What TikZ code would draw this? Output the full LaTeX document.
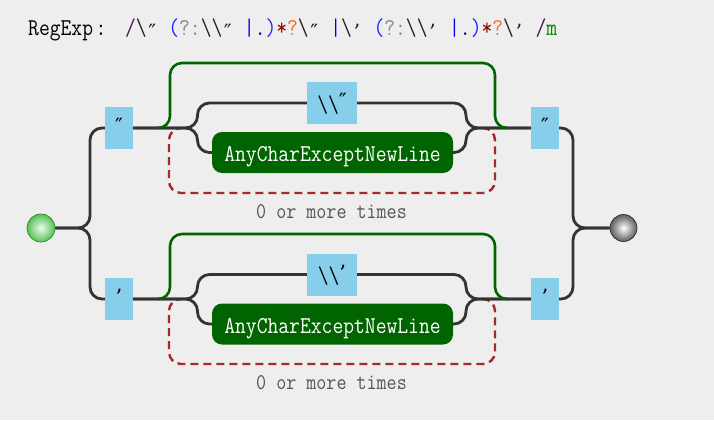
\documentclass[tikz,border=0pt]{standalone}
\usepackage{fontspec}
\newfontfamily\qfont{DejaVu Serif}
\definecolor{bg}{HTML}{EEEEEE}
\definecolor{linec}{HTML}{333333}
\definecolor{loopgreen}{HTML}{006400}
\definecolor{anygreen}{HTML}{006400}
\definecolor{repred}{HTML}{A52A2A}
\definecolor{sky}{HTML}{87CEEB}
\definecolor{notegray}{HTML}{555555}
\definecolor{gbin}{RGB}{235,252,235}
\definecolor{gbmid}{RGB}{70,185,70}
\definecolor{gbout}{RGB}{20,140,20}
\definecolor{gbrim}{RGB}{25,130,25}
\definecolor{ebin}{RGB}{255,255,255}
\definecolor{ebmid}{RGB}{110,110,110}
\definecolor{ebout}{RGB}{35,35,35}
\definecolor{ebrim}{RGB}{30,30,30}
\definecolor{cslash}{RGB}{80,20,90}
\definecolor{cesc}{HTML}{222222}
\definecolor{cgrp}{HTML}{1E1EFF}
\definecolor{cnc}{HTML}{8A8A8A}
\definecolor{cor}{HTML}{0000EE}
\definecolor{cdot}{HTML}{000080}
\definecolor{cstar}{HTML}{8B0000}
\definecolor{clazy}{HTML}{FF6A1A}
\definecolor{cflag}{HTML}{008000}
\pgfdeclareradialshading{greenball}{\pgfpoint{0bp}{0bp}}{color(0bp)=(gbin); color(28bp)=(gbmid); color(50bp)=(gbout)}
\pgfdeclareradialshading{grayball}{\pgfpoint{0bp}{0bp}}{color(0bp)=(ebin); color(22bp)=(ebmid); color(50bp)=(ebout)}
\newcommand{\tall}[1]{\scalebox{1}[1.15]{#1}}
\newcommand{\rxc}[2]{\makebox[10.8pt]{\textcolor{#1}{\tall{#2}}}}
\newcommand{\rxq}[2]{\makebox[21.6pt][l]{\hspace{1.5pt}\textcolor{#1}{\raisebox{-3.5pt}{\qfont #2}}}}
\newcommand{\bq}[1]{\raisebox{3.5pt}{\qfont #1}}
\begin{document}
\begin{tikzpicture}[x=1pt,y=-1pt,
  conn/.style={draw=linec, line width=2.8pt, rounded corners=12pt},
  loopg/.style={draw=loopgreen, line width=2.6pt, rounded corners=12pt},
  repeatloop/.style={draw=repred, line width=2.4pt, dash pattern=on 8pt off 5pt, rounded corners=12pt},
  lit/.style={fill=sky, inner sep=0pt, minimum height=42pt, text height=22pt, text depth=4pt, font=\ttfamily\fontsize{21}{25}\selectfont},
  chars/.style={fill=anygreen, rounded corners=10pt, inner sep=0pt, minimum width=241pt, minimum height=41pt, text=white, text height=22pt, text depth=4pt, font=\ttfamily\fontsize{21}{25}\selectfont},
  note/.style={text=notegray, font=\ttfamily\fontsize{19.5}{23}\selectfont, anchor=base, inner sep=0pt},
  titletext/.style={anchor=base west, inner sep=0pt, font=\ttfamily\fontsize{21}{25}\selectfont}
]
\useasboundingbox (0,0) rectangle (714,420);
\fill[bg] (0,0) rectangle (714,420);

% title
\node[titletext] (title) at (28,36) {\tall{RegExp}\makebox[16pt]{\tall{:}}};
\node[titletext] (regex) at (125,36) {\rxc{cslash}{/}\rxc{cesc}{\textbackslash}\rxq{cesc}{″}\rxc{cgrp}{(}\rxc{cnc}{?}\rxc{cnc}{:}\rxc{cesc}{\textbackslash}\rxc{cesc}{\textbackslash}\rxq{cesc}{″}\rxc{cor}{|}\rxc{cdot}{.}\rxc{cgrp}{)}\rxc{cstar}{*}\rxc{clazy}{?}\rxc{cesc}{\textbackslash}\rxq{cesc}{″}\rxc{cor}{|}\rxc{cesc}{\textbackslash}\rxq{cesc}{’}\rxc{cgrp}{(}\rxc{cnc}{?}\rxc{cnc}{:}\rxc{cesc}{\textbackslash}\rxc{cesc}{\textbackslash}\rxq{cesc}{’}\rxc{cor}{|}\rxc{cdot}{.}\rxc{cgrp}{)}\rxc{cstar}{*}\rxc{clazy}{?}\rxc{cesc}{\textbackslash}\rxq{cesc}{’}\rxc{cslash}{/}\rxc{cflag}{m}};

% terminals
\node[circle, minimum size=28pt, inner sep=0pt, shade, shading=greenball, draw=gbrim, line width=0.6pt] (start) at (41,228) {};
\node[circle, minimum size=27pt, inner sep=0pt, shade, shading=grayball, draw=ebrim, line width=0.6pt] (end) at (623.5,228) {};

% top alternative nodes
\node[lit, minimum width=28pt] (q1) at (119,128) {\bq{″}};
\node[lit, minimum width=50pt] (esc1) at (332,103) {\tall{\textbackslash\textbackslash}\bq{″}};
\node[chars] (any1) at (332.5,152.5) {\tall{AnyCharExceptNewLine}};
\node[lit, minimum width=28pt] (q1r) at (545,128) {\bq{″}};
\node[note] (rep1) at (331.5,218) {\tall{0 or more times}};

% bottom alternative nodes
\node[lit, minimum width=28pt] (q2) at (119,299) {\bq{’}};
\node[lit, minimum width=50pt] (esc2) at (332,274.5) {\tall{\textbackslash\textbackslash}\bq{’}};
\node[chars] (any2) at (332.5,324) {\tall{AnyCharExceptNewLine}};
\node[lit, minimum width=28pt] (q2r) at (545,299) {\bq{’}};
\node[note] (rep2) at (331.5,389) {\tall{0 or more times}};

% helper coordinates
\coordinate (g1a) at (157,128);
\coordinate (g1b) at (508,128);
\coordinate (g2a) at (157,299);
\coordinate (g2b) at (508,299);
\coordinate (d1a) at (482,128);
\coordinate (d1b) at (181,128);
\coordinate (d2a) at (482,299);
\coordinate (d2b) at (181,299);

% repetition (dashed) loops
\draw[repeatloop] (d1a) -- (495,128) -- (495,193) -- (169,193) -- (169,128) -- (d1b);
\draw[repeatloop] (d2a) -- (495,299) -- (495,364) -- (169,364) -- (169,299) -- (d2b);

% connectors
\draw[conn] (start.east) -- (90,228) |- (q1.west);
\draw[conn] (start.east) -- (90,228) |- (q2.west);
\draw[conn] (q1r.east) -- (573,128) |- (end.west);
\draw[conn] (q2r.east) -- (573,299) |- (end.west);

\draw[conn] (q1.east) -- (197.5,128) |- (esc1.west);
\draw[conn] (q1.east) -- (197.5,128) |- (any1.west);
\draw[conn] (esc1.east) -- (466,103) |- (q1r.west);
\draw[conn] (any1.east) -- (466,152.5) |- (q1r.west);

\draw[conn] (q2.east) -- (197.5,299) |- (esc2.west);
\draw[conn] (q2.east) -- (197.5,299) |- (any2.west);
\draw[conn] (esc2.east) -- (466,274.5) |- (q2r.west);
\draw[conn] (any2.east) -- (466,324) |- (q2r.west);

% skip (green) loops
\draw[loopg] (g1a) -- (170,128) -- (170,63) -- (495,63) -- (495,128) -- (g1b);
\draw[loopg] (g2a) -- (170,299) -- (170,234) -- (495,234) -- (495,299) -- (g2b);
\end{tikzpicture}
\end{document}
